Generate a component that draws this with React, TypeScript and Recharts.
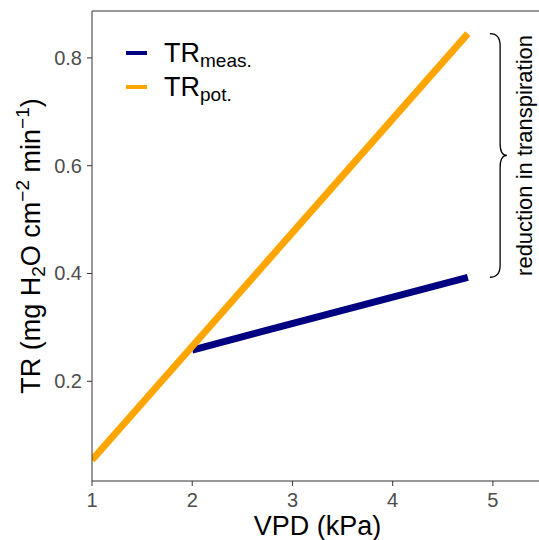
import { LineChart, Line, XAxis, YAxis, ReferenceLine, ReferenceArea } from 'recharts';

const vpdPot = [1, 4.75];
const trPot = [0.054, 0.845];
const vpdMeas = [2, 4.75];
const trMeas = [0.258, 0.393];

const xTicks = [1, 2, 3, 4, 5];
const yTicks = [0.2, 0.4, 0.6, 0.8];
const xDomain = [1, 5.46];
const yDomain = [0.015, 0.887];

const legendItems = [
  { base: 'TR', sub: 'meas.', color: '#000080' },
  { base: 'TR', sub: 'pot.', color: '#FFA500' },
];

const braceSpan = { x1: 4.97, x2: 5.14, y1: trMeas[1], y2: trPot[1] };

const potData = vpdPot.map((v, i) => ({ vpd: v, tr: trPot[i] }));
const measData = vpdMeas.map((v, i) => ({ vpd: v, tr: trMeas[i] }));

const FONT = '"Liberation Sans", Arial, sans-serif';

const Brace = (props: any) => {
  const { x, y, width, height } = props;
  const x0 = x;
  const xs = x + width * 0.6;
  const xt = x + width;
  const y0 = y;
  const y1 = y + height;
  const ym = y + height / 2;
  const r = 12;
  const d = `M ${x0} ${y0} Q ${xs} ${y0} ${xs} ${y0 + r} L ${xs} ${ym - r} Q ${xs} ${ym} ${xt} ${ym} Q ${xs} ${ym} ${xs} ${ym + r} L ${xs} ${y1 - r} Q ${xs} ${y1} ${x0} ${y1}`;
  return (
    <g>
      <path d={d} fill="none" stroke="#000" strokeWidth={1.3} />
      <text
        x={xt + 25}
        y={ym}
        transform={`rotate(-90, ${xt + 25}, ${ym})`}
        textAnchor="middle"
        fontSize={22}
        fontFamily={FONT}
        fill="#000"
      >
        reduction in transpiration
      </text>
    </g>
  );
};

const YLabel = (props: any) => {
  const { viewBox } = props;
  const cy = viewBox.y + viewBox.height / 2;
  const cx = 40;
  return (
    <text
      x={cx}
      y={cy}
      transform={`rotate(-90, ${cx}, ${cy})`}
      textAnchor="middle"
      fontSize={27}
      fontFamily={FONT}
      fill="#000"
    >
      TR (mg H
      <tspan fontSize={19} dy={5}>2</tspan>
      <tspan dy={-5}>O cm</tspan>
      <tspan fontSize={19} dy={-11}>−2</tspan>
      <tspan dy={11}> min</tspan>
      <tspan fontSize={19} dy={-11}>−1</tspan>
      <tspan dy={11}>)</tspan>
    </text>
  );
};

const XLabel = (props: any) => {
  const { viewBox } = props;
  return (
    <text
      x={viewBox.x + viewBox.width / 2 + 2}
      y={535}
      textAnchor="middle"
      fontSize={27}
      fontFamily={FONT}
      fill="#000"
    >
      VPD (kPa)
    </text>
  );
};

const XTick = (props: any) => {
  const { x, y, payload } = props;
  return (
    <text x={x} y={y + 14} textAnchor="middle" fontSize={20} fontFamily={FONT} fill="#4d4d4d">
      {payload.value}
    </text>
  );
};

const YTick = (props: any) => {
  const { x, y, payload } = props;
  return (
    <text x={x} y={y + 7} textAnchor="end" fontSize={20} fontFamily={FONT} fill="#4d4d4d">
      {payload.value.toFixed(1)}
    </text>
  );
};

export default function App() {
  return (
    <div style={{ position: 'relative', width: 539, height: 540, background: '#fff' }}>
      <style>{'body{margin:0}'}</style>
      <LineChart width={539} height={540} margin={{ top: 11, right: 0, left: 0, bottom: 0 }}>
        <XAxis
          type="number"
          dataKey="vpd"
          domain={xDomain}
          allowDataOverflow
          ticks={xTicks}
          tickSize={5}
          tickMargin={7}
          height={59}
          stroke="#333"
          tick={<XTick />}
          label={<XLabel />}
        />
        <YAxis
          type="number"
          domain={yDomain}
          allowDataOverflow
          ticks={yTicks}
          tickSize={5}
          tickMargin={5}
          width={92}
          stroke="#333"
          tick={<YTick />}
          label={<YLabel />}
        />
        <ReferenceLine y={yDomain[1]} stroke="#333" ifOverflow="visible" />
        <Line
          data={measData}
          dataKey="tr"
          type="linear"
          stroke="#000080"
          strokeWidth={7}
          dot={false}
          activeDot={false}
          isAnimationActive={false}
        />
        <Line
          data={potData}
          dataKey="tr"
          type="linear"
          stroke="#FFA500"
          strokeWidth={7}
          dot={false}
          activeDot={false}
          isAnimationActive={false}
        />
        <ReferenceArea
          x1={braceSpan.x1}
          x2={braceSpan.x2}
          y1={braceSpan.y1}
          y2={braceSpan.y2}
          ifOverflow="visible"
          shape={<Brace />}
        />
      </LineChart>
      <svg
        width={200}
        height={90}
        style={{ position: 'absolute', left: 120, top: 30 }}
        fontFamily={FONT}
      >
        {legendItems.map((it, i) => (
          <g key={it.sub}>
            <line x1={6} x2={27} y1={23 + i * 34} y2={23 + i * 34} stroke={it.color} strokeWidth={4} />
            <text x={44} y={32 + i * 34} fontSize={27} fill="#000">
              {it.base}
              <tspan fontSize={19} dy={5}>{it.sub}</tspan>
            </text>
          </g>
        ))}
      </svg>
    </div>
  );
}
